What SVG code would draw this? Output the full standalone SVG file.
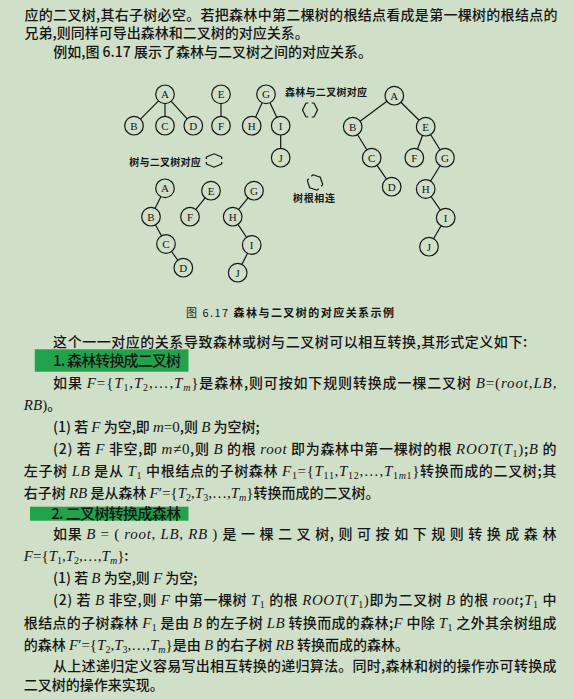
<svg xmlns="http://www.w3.org/2000/svg" width="574" height="699" viewBox="0 0 574 699">
<defs>
<path id="swap" d="M-4,-7 L-7.5,0 L-4,7 M4,-7 L7.5,0 L4,7 M-4,-7 h2.3 M4,-7 h-2.3 M-4,7 h2.3 M4,7 h-2.3"/>
</defs>
<style>
.t{font-family:"Noto Sans CJK SC",sans-serif;font-size:14px;font-weight:500;fill:#151515}
.m{font-family:"Liberation Serif",serif;font-style:italic;font-size:15px}
.r{font-family:"Liberation Serif",serif;font-size:15px}
.s{font-family:"Liberation Serif",serif;font-size:10px}
.lbl{font-family:"Noto Sans CJK SC",sans-serif;font-size:10px;font-weight:bold;fill:#151515}
.node circle{fill:#d0e0c8;stroke:#151515;stroke-width:1.2}
.node text{font-family:"Liberation Serif",serif;font-size:11px;text-anchor:middle;fill:#151515}
.edges line{stroke:#151515;stroke-width:1.2}
.sym{fill:none;stroke:#151515;stroke-width:1.2}
.bar{fill:#22a24b}
</style>
<rect width="574" height="699" fill="#d0e0c8"/>

<!-- top paragraph -->
<text class="t" x="24.5" y="19.5" textLength="533" lengthAdjust="spacing">应的二叉树,其右子树必空。若把森林中第二棵树的根结点看成是第一棵树的根结点的</text>
<text class="t" x="24.5" y="38">兄弟,则同样可导出森林和二叉树的对应关系。</text>
<text class="t" x="53.3" y="56.5">例如,图 6.17 展示了森林与二叉树之间的对应关系。</text>

<!-- connectors -->
<g id="connectors" class="edges">
<line x1="165" y1="94.3" x2="134" y2="125.7"/>
<line x1="165" y1="94.3" x2="165" y2="125.7"/>
<line x1="165" y1="94.3" x2="193.3" y2="125.7"/>
<line x1="221" y1="94.3" x2="221" y2="125.7"/>
<line x1="266" y1="94.3" x2="251.7" y2="125.7"/>
<line x1="266" y1="94.3" x2="280.7" y2="125.7"/>
<line x1="280.7" y1="125.7" x2="280.7" y2="157.7"/>

<line x1="165" y1="188.3" x2="151" y2="216.7"/>
<line x1="151" y1="216.7" x2="166" y2="244"/>
<line x1="166" y1="244" x2="183.3" y2="267.7"/>
<line x1="211" y1="190.7" x2="190" y2="216.7"/>
<line x1="254" y1="190.7" x2="232.7" y2="216.7"/>
<line x1="232.7" y1="216.7" x2="251.7" y2="245"/>
<line x1="251.7" y1="245" x2="237.7" y2="272.7"/>

<line x1="394.3" y1="95.7" x2="352.7" y2="126.7"/>
<line x1="394.3" y1="95.7" x2="425.7" y2="126.7"/>
<line x1="352.7" y1="126.7" x2="371.7" y2="157.7"/>
<line x1="371.7" y1="157.7" x2="391.7" y2="186.7"/>
<line x1="425.7" y1="126.7" x2="414.3" y2="157.7"/>
<line x1="425.7" y1="126.7" x2="445" y2="157.7"/>
<line x1="445" y1="157.7" x2="425.7" y2="189"/>
<line x1="425.7" y1="189" x2="445.7" y2="217.7"/>
<line x1="445.7" y1="217.7" x2="429" y2="246.7"/>
</g>

<!-- forest -->
<g id="f-A" class="node"><circle cx="165" cy="94.3" r="9.3"/><text x="165" y="98.3">A</text></g>
<g id="f-B" class="node"><circle cx="134" cy="125.7" r="9.3"/><text x="134" y="129.7">B</text></g>
<g id="f-C" class="node"><circle cx="165" cy="125.7" r="9.3"/><text x="165" y="129.7">C</text></g>
<g id="f-D" class="node"><circle cx="193.3" cy="125.7" r="9.3"/><text x="193.3" y="129.7">D</text></g>
<g id="f-E" class="node"><circle cx="221" cy="94.3" r="9.3"/><text x="221" y="98.3">E</text></g>
<g id="f-F" class="node"><circle cx="221" cy="125.7" r="9.3"/><text x="221" y="129.7">F</text></g>
<g id="f-G" class="node"><circle cx="266" cy="94.3" r="9.3"/><text x="266" y="98.3">G</text></g>
<g id="f-H" class="node"><circle cx="251.7" cy="125.7" r="9.3"/><text x="251.7" y="129.7">H</text></g>
<g id="f-I" class="node"><circle cx="280.7" cy="125.7" r="9.3"/><text x="280.7" y="129.7">I</text></g>
<g id="f-J" class="node"><circle cx="280.7" cy="157.7" r="9.3"/><text x="280.7" y="161.7">J</text></g>

<!-- per-tree binary -->
<g id="t-A" class="node"><circle cx="165" cy="188.3" r="9.3"/><text x="165" y="192.3">A</text></g>
<g id="t-B" class="node"><circle cx="151" cy="216.7" r="9.3"/><text x="151" y="220.7">B</text></g>
<g id="t-C" class="node"><circle cx="166" cy="244" r="9.3"/><text x="166" y="248">C</text></g>
<g id="t-D" class="node"><circle cx="183.3" cy="267.7" r="9.3"/><text x="183.3" y="271.7">D</text></g>
<g id="t-E" class="node"><circle cx="211" cy="190.7" r="9.3"/><text x="211" y="194.7">E</text></g>
<g id="t-F" class="node"><circle cx="190" cy="216.7" r="9.3"/><text x="190" y="220.7">F</text></g>
<g id="t-G" class="node"><circle cx="254" cy="190.7" r="9.3"/><text x="254" y="194.7">G</text></g>
<g id="t-H" class="node"><circle cx="232.7" cy="216.7" r="9.3"/><text x="232.7" y="220.7">H</text></g>
<g id="t-I" class="node"><circle cx="251.7" cy="245" r="9.3"/><text x="251.7" y="249">I</text></g>
<g id="t-J" class="node"><circle cx="237.7" cy="272.7" r="9.3"/><text x="237.7" y="276.7">J</text></g>

<!-- combined binary -->
<g id="b-A" class="node"><circle cx="394.3" cy="95.7" r="9.3"/><text x="394.3" y="99.7">A</text></g>
<g id="b-B" class="node"><circle cx="352.7" cy="126.7" r="9.3"/><text x="352.7" y="130.7">B</text></g>
<g id="b-E" class="node"><circle cx="425.7" cy="126.7" r="9.3"/><text x="425.7" y="130.7">E</text></g>
<g id="b-C" class="node"><circle cx="371.7" cy="157.7" r="9.3"/><text x="371.7" y="161.7">C</text></g>
<g id="b-F" class="node"><circle cx="414.3" cy="157.7" r="9.3"/><text x="414.3" y="161.7">F</text></g>
<g id="b-G" class="node"><circle cx="445" cy="157.7" r="9.3"/><text x="445" y="161.7">G</text></g>
<g id="b-D" class="node"><circle cx="391.7" cy="186.7" r="9.3"/><text x="391.7" y="190.7">D</text></g>
<g id="b-H" class="node"><circle cx="425.7" cy="189" r="9.3"/><text x="425.7" y="193">H</text></g>
<g id="b-I" class="node"><circle cx="445.7" cy="217.7" r="9.3"/><text x="445.7" y="221.7">I</text></g>
<g id="b-J" class="node"><circle cx="429" cy="246.7" r="9.3"/><text x="429" y="250.7">J</text></g>

<!-- transformation labels -->
<g id="lbl-forest">
<text class="lbl" x="285" y="95.5" textLength="82" lengthAdjust="spacing">森林与二叉树对应</text>
<use href="#swap" class="sym" transform="translate(310,110)"/>
</g>
<g id="lbl-tree">
<text class="lbl" x="129.3" y="165.5" textLength="71.4" lengthAdjust="spacing">树与二叉树对应</text>
<use href="#swap" class="sym" transform="translate(214,160.5) rotate(90) scale(0.9,1.1)"/>
</g>
<g id="lbl-root">
<text class="lbl" x="293" y="202" textLength="42" lengthAdjust="spacing">树根相连</text>
<use href="#swap" class="sym" transform="translate(315,182.5) rotate(-45)"/>
</g>

<!-- caption -->
<text class="t" x="186" y="316.5" textLength="208" lengthAdjust="spacing" style="font-size:11px;font-weight:normal">图 6.17  <tspan font-weight="bold">森林与二叉树的对应关系示例</tspan></text>

<text class="t" x="53.1" y="347" textLength="474" lengthAdjust="spacing">这个一一对应的关系导致森林或树与二叉树可以相互转换,其形式定义如下:</text>

<g id="heading1">
<rect class="bar" x="34.8" y="349.3" width="153.7" height="22.4"/>
<text class="t" x="53.1" y="366" textLength="128" lengthAdjust="spacing" style="font-size:15px">1. 森林转换成二叉树</text>
</g>

<text class="t" x="53.1" y="388" textLength="503.3" lengthAdjust="spacing">如果 <tspan class="m">F</tspan><tspan class="r">={</tspan><tspan class="m">T</tspan><tspan class="s" dy="3">1</tspan><tspan class="r" dy="-3">,</tspan><tspan class="m">T</tspan><tspan class="s" dy="3">2</tspan><tspan class="r" dy="-3">,…,</tspan><tspan class="m">T</tspan><tspan class="s m" dy="3" style="font-size:10px">m</tspan><tspan class="r" dy="-3">}</tspan>是森林,则可按如下规则转换成一棵二叉树 <tspan class="m">B</tspan><tspan class="r">=(</tspan><tspan class="m">root</tspan><tspan class="r">,</tspan><tspan class="m">LB</tspan><tspan class="r">,</tspan></text>
<text class="t" x="23.8" y="409.5"><tspan class="m">RB</tspan><tspan class="r">)</tspan>。</text>
<text class="t" x="53.1" y="432">(1) 若 <tspan class="m">F</tspan> 为空,即 <tspan class="m">m</tspan><tspan class="r">=0</tspan>,则 <tspan class="m">B</tspan> 为空树;</text>
<text class="t" x="53.1" y="453.5" textLength="503.3" lengthAdjust="spacing">(2) 若 <tspan class="m">F</tspan> 非空,即 <tspan class="m">m</tspan><tspan class="r">≠0</tspan>,则 <tspan class="m">B</tspan> 的根 <tspan class="m">root</tspan> 即为森林中第一棵树的根 <tspan class="m">ROOT</tspan><tspan class="r">(</tspan><tspan class="m">T</tspan><tspan class="s" dy="3">1</tspan><tspan class="r" dy="-3">)</tspan>;<tspan class="m">B</tspan> 的</text>
<text class="t" x="23.8" y="475.5" textLength="532.6" lengthAdjust="spacing">左子树 <tspan class="m">LB</tspan> 是从 <tspan class="m">T</tspan><tspan class="s" dy="3">1</tspan><tspan dy="-3"> 中根结点的子树森林 </tspan><tspan class="m">F</tspan><tspan class="s" dy="3">1</tspan><tspan class="r" dy="-3">={</tspan><tspan class="m">T</tspan><tspan class="s" dy="3">11</tspan><tspan class="r" dy="-3">,</tspan><tspan class="m">T</tspan><tspan class="s" dy="3">12</tspan><tspan class="r" dy="-3">,…,</tspan><tspan class="m">T</tspan><tspan class="s" dy="3">1<tspan class="m" style="font-size:10px">m</tspan>1</tspan><tspan class="r" dy="-3">}</tspan>转换而成的二叉树;其</text>
<text class="t" x="23.8" y="497.5">右子树 <tspan class="m">RB</tspan> 是从森林 <tspan class="m">F</tspan><tspan class="r">′={</tspan><tspan class="m">T</tspan><tspan class="s" dy="3">2</tspan><tspan class="r" dy="-3">,</tspan><tspan class="m">T</tspan><tspan class="s" dy="3">3</tspan><tspan class="r" dy="-3">,…,</tspan><tspan class="m">T</tspan><tspan class="s m" dy="3" style="font-size:10px">m</tspan><tspan class="r" dy="-3">}</tspan>转换而成的二叉树。</text>

<g id="heading2">
<rect class="bar" x="30" y="506.7" width="158.5" height="14"/>
<text class="t" x="51.2" y="519" textLength="130" lengthAdjust="spacing" style="font-size:15px">2. 二叉树转换成森林</text>
</g>

<text class="t" x="53.1" y="539" textLength="503.3" lengthAdjust="spacing">如果 <tspan class="m">B</tspan><tspan class="r"> = ( </tspan><tspan class="m">root</tspan><tspan class="r">, </tspan><tspan class="m">LB</tspan><tspan class="r">, </tspan><tspan class="m">RB</tspan><tspan class="r"> ) </tspan>是 一 棵 二 叉 树, 则 可 按 如 下 规 则 转 换 成 森 林</text>
<text class="t" x="23.8" y="561"><tspan class="m">F</tspan><tspan class="r">={</tspan><tspan class="m">T</tspan><tspan class="s" dy="3">1</tspan><tspan class="r" dy="-3">,</tspan><tspan class="m">T</tspan><tspan class="s" dy="3">2</tspan><tspan class="r" dy="-3">,…,</tspan><tspan class="m">T</tspan><tspan class="s m" dy="3" style="font-size:10px">m</tspan><tspan class="r" dy="-3">}</tspan>:</text>
<text class="t" x="53.1" y="583">(1) 若 <tspan class="m">B</tspan> 为空,则 <tspan class="m">F</tspan> 为空;</text>
<text class="t" x="53.1" y="604.5" textLength="503.3" lengthAdjust="spacing">(2) 若 <tspan class="m">B</tspan> 非空,则 <tspan class="m">F</tspan> 中第一棵树 <tspan class="m">T</tspan><tspan class="s" dy="3">1</tspan><tspan dy="-3"> 的根 </tspan><tspan class="m">ROOT</tspan><tspan class="r">(</tspan><tspan class="m">T</tspan><tspan class="s" dy="3">1</tspan><tspan class="r" dy="-3">)</tspan>即为二叉树 <tspan class="m">B</tspan> 的根 <tspan class="m">root</tspan>;<tspan class="m">T</tspan><tspan class="s" dy="3">1</tspan><tspan dy="-3"> 中</tspan></text>
<text class="t" x="23.8" y="628" textLength="532.6" lengthAdjust="spacing">根结点的子树森林 <tspan class="m">F</tspan><tspan class="s" dy="3">1</tspan><tspan dy="-3"> 是由 </tspan><tspan class="m">B</tspan> 的左子树 <tspan class="m">LB</tspan> 转换而成的森林;<tspan class="m">F</tspan> 中除 <tspan class="m">T</tspan><tspan class="s" dy="3">1</tspan><tspan dy="-3"> 之外其余树组成</tspan></text>
<text class="t" x="23.8" y="649.5">的森林 <tspan class="m">F</tspan><tspan class="r">′={</tspan><tspan class="m">T</tspan><tspan class="s" dy="3">2</tspan><tspan class="r" dy="-3">,</tspan><tspan class="m">T</tspan><tspan class="s" dy="3">3</tspan><tspan class="r" dy="-3">,…,</tspan><tspan class="m">T</tspan><tspan class="s m" dy="3" style="font-size:10px">m</tspan><tspan class="r" dy="-3">}</tspan>是由 <tspan class="m">B</tspan> 的右子树 <tspan class="m">RB</tspan> 转换而成的森林。</text>
<text class="t" x="53.1" y="671" textLength="503.3" lengthAdjust="spacing">从上述递归定义容易写出相互转换的递归算法。同时,森林和树的操作亦可转换成</text>
<text class="t" x="23.8" y="689.5">二叉树的操作来实现。</text>
</svg>
